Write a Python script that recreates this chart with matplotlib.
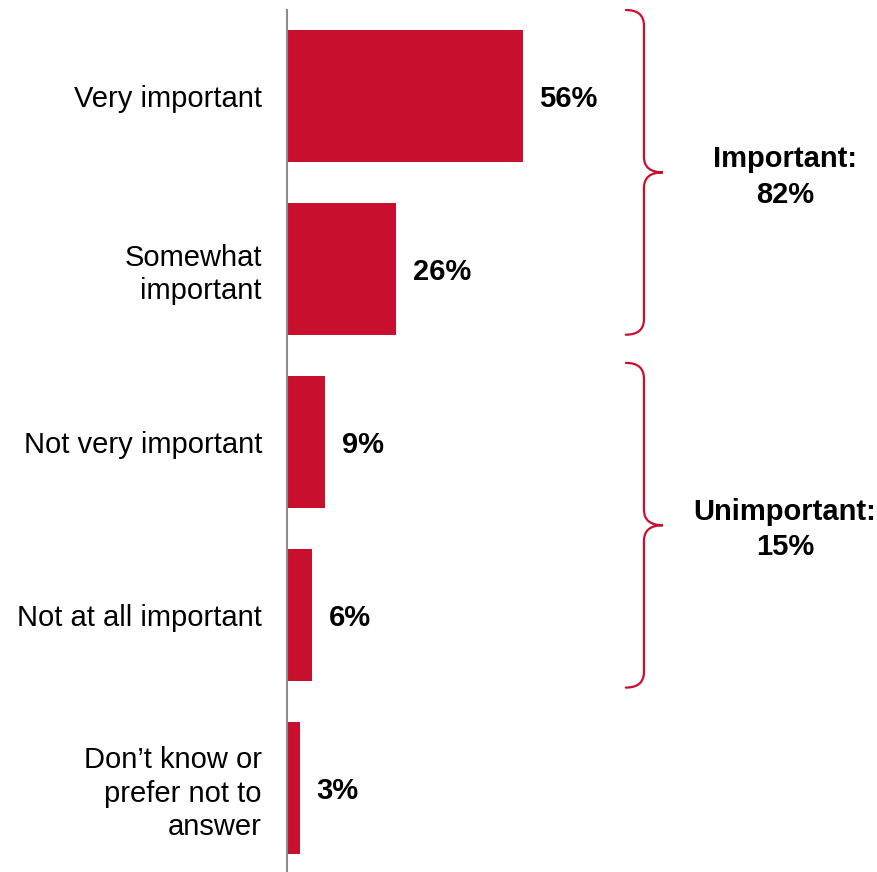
import matplotlib
matplotlib.use('Agg')
import matplotlib.pyplot as plt
from matplotlib.path import Path
from matplotlib.patches import PathPatch

plt.rcParams['font.family'] = ['Liberation Sans', 'DejaVu Sans']

# Data
categories = ['Very important', 'Somewhat\nimportant', 'Not very important',
              'Not at all important', 'Don\u2019t know or\nprefer not to\nanswer']
values = [56, 26, 9, 6, 3]
groups = ['Important:\n82%', 'Unimportant:\n15%']
group_spans = [(-0.497, 1.38), (1.543, 3.42)]

red = '#C8102E'

fig = plt.figure(figsize=(8.78, 8.72), dpi=100)
ax = fig.add_axes([287 / 878, 0, 591 / 878, 862 / 872])

y = list(range(len(categories)))
ax.barh(y, values, height=0.763, color=red)
for yi, v in zip(y, values):
    ax.annotate(f'{v}%', xy=(v, yi), xytext=(12, -2), textcoords='offset points',
                ha='left', va='center', fontsize=21, fontweight='bold')

ax.set_ylim(4.486, -0.497)
ax.set_xlim(0, 140.4)
ax.set_yticks(y)
ax.set_yticklabels(categories, fontsize=21, linespacing=1.25)
ax.tick_params(axis='y', length=0, pad=18)
ax.set_xticks([])
for s in ['top', 'right', 'bottom']:
    ax.spines[s].set_visible(False)
ax.spines['left'].set_color('#8c8c8c')
ax.spines['left'].set_linewidth(1.5)


def brace(ax, top, bot, xl=80.5, xv=84.8, xt=89.3, ry=0.09):
    mid = (top + bot) / 2
    verts = [(xl, top), (xv, top), (xv, top + ry),
             (xv, mid - ry), (xv, mid), (xt, mid),
             (xv, mid), (xv, mid + ry),
             (xv, bot - ry), (xv, bot), (xl, bot)]
    codes = [Path.MOVETO, Path.CURVE3, Path.CURVE3,
             Path.LINETO, Path.CURVE3, Path.CURVE3,
             Path.CURVE3, Path.CURVE3,
             Path.LINETO, Path.CURVE3, Path.CURVE3]
    ax.add_patch(PathPatch(Path(verts, codes), fill=False, edgecolor=red,
                           linewidth=1.6, clip_on=False, capstyle='round'))
    return mid


for label, (top, bot) in zip(groups, group_spans):
    mid = brace(ax, top, bot)
    ax.text(118.3, mid + 0.025, label, ha='center', va='center', fontsize=21,
            fontweight='bold', linespacing=1.35)

fig.savefig('out.png', dpi=100)
